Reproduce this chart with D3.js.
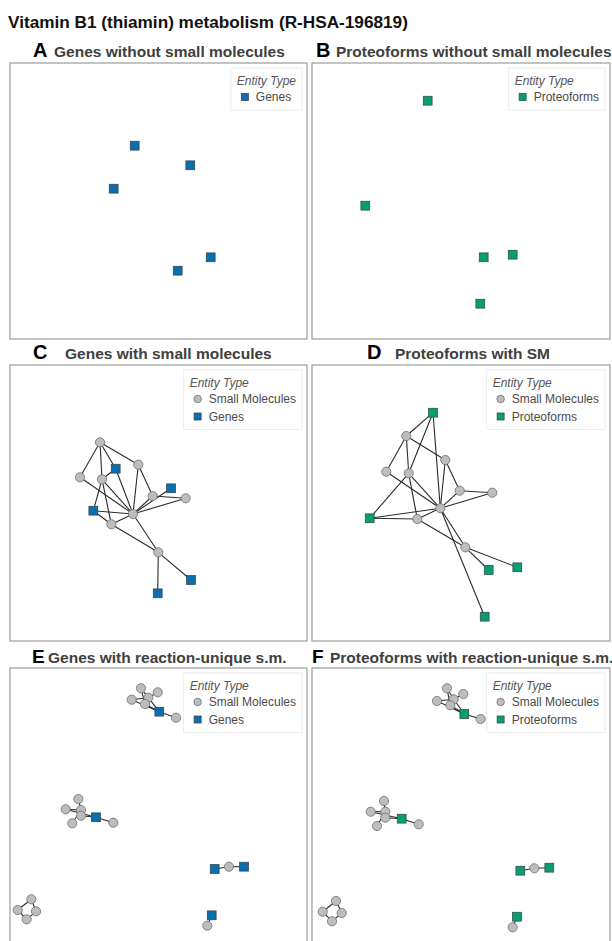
<!DOCTYPE html>
<html>
<head>
<meta charset="utf-8">
<script src="https://cdn.jsdelivr.net/npm/d3@7"></script>
<style>
  body { margin: 0; background: #fff; }
  svg { display: block; font-family: "Liberation Sans", Arial, Helvetica, sans-serif; }
</style>
</head>
<body>
<svg id="chart" width="612" height="941"></svg>
<script>
// ---- text ----
const chartTitle = "Vitamin B1 (thiamin) metabolism (R-HSA-196819)";
const panelLetters = ["A", "B", "C", "D", "E", "F"];
const panelTitles = [
  "Genes without small molecules",
  "Proteoforms without small molecules",
  "Genes with small molecules",
  "Proteoforms with SM",
  "Genes with reaction-unique s.m.",
  "Proteoforms with reaction-unique s.m."
];
const legendTitle = "Entity Type";
const entityLabels = { sm: "Small Molecules", gene: "Genes", prot: "Proteoforms" };
const legendEntries = [
  ["gene"], ["prot"], ["sm", "gene"], ["sm", "prot"], ["sm", "gene"], ["sm", "prot"]
];

// ---- network layouts: [id, entity type, layout x, layout y] ----
const nodesA = [
  ["g1", "gene", 124.7, 82.7], ["g2", "gene", 180.3, 102.3], ["g3", "gene", 103.7, 125.7],
  ["g4", "gene", 200.7, 194.3], ["g5", "gene", 167.7, 207.7]
];
const edgesA = [];

const nodesB = [
  ["p1", "prot", 115.7, 37.7], ["p2", "prot", 53.3, 142.7], ["p3", "prot", 171.7, 194.3],
  ["p4", "prot", 200.7, 191.7], ["p5", "prot", 168.3, 240.7]
];
const edgesB = [];

const nodesC = [
  ["n1", "sm", 90, 77.3], ["n2", "sm", 128.3, 99.7], ["n3", "sm", 70, 112.3],
  ["n4", "sm", 92, 114.3], ["n5", "sm", 142.7, 131], ["n6", "sm", 175.7, 133.3],
  ["hub", "sm", 123, 149], ["n8", "sm", 101.3, 159.3], ["n9", "sm", 148.3, 187.3],
  ["g1", "gene", 105.7, 103.7], ["g2", "gene", 161, 123.3], ["g3", "gene", 83.3, 145.7],
  ["g4", "gene", 181, 215], ["g5", "gene", 147.7, 228.3]
];
const edgesC = [
  ["n1", "n3"], ["n1", "n4"], ["n1", "n2"], ["n1", "g1"], ["g1", "n4"], ["g1", "hub"],
  ["n3", "hub"], ["n4", "hub"], ["n4", "g3"], ["n4", "n8"], ["n2", "hub"], ["n2", "n5"],
  ["n5", "hub"], ["g2", "hub"], ["n5", "n6"], ["n6", "hub"], ["g3", "hub"], ["g3", "n8"],
  ["n8", "hub"], ["n8", "n9"], ["hub", "n9"], ["n9", "g4"], ["n9", "g5"]
];

const nodesD = [
  ["n1", "sm", 94.3, 71], ["n2", "sm", 133.3, 95], ["n3", "sm", 74.3, 106.7],
  ["n4", "sm", 96.7, 108.3], ["n5", "sm", 147.7, 125.7], ["n6", "sm", 180.3, 127.7],
  ["hub", "sm", 128.3, 143.3], ["n8", "sm", 105.3, 154], ["n9", "sm", 153.3, 182.3],
  ["p1", "prot", 121, 47.7], ["pL", "prot", 57.7, 153.3], ["p3", "prot", 205.3, 202.3],
  ["p4", "prot", 176.7, 205], ["p5", "prot", 172.7, 251.7]
];
const edgesD = [
  ["p1", "n1"], ["p1", "n4"], ["p1", "hub"], ["n1", "n3"], ["n1", "n4"], ["n1", "n2"],
  ["n3", "hub"], ["n4", "hub"], ["n4", "pL"], ["n4", "n8"], ["n2", "hub"], ["n2", "n5"],
  ["n5", "hub"], ["n5", "n6"], ["n6", "hub"], ["pL", "hub"], ["pL", "n8"], ["n8", "hub"],
  ["n8", "n9"], ["hub", "n9"], ["hub", "p5"], ["n9", "p4"], ["n9", "p3"]
];

const nodesE = [
  ["a1", "sm", 131, 20.3], ["a2", "sm", 147.7, 24.3], ["a3", "sm", 138.3, 29.7],
  ["a4", "sm", 121.7, 31.7], ["a5", "sm", 135, 36], ["ga", "gene", 149.3, 43.7],
  ["a6", "sm", 166, 49.7],
  ["b1", "sm", 68.3, 131], ["b2", "sm", 55.7, 141.3], ["b3", "sm", 71, 142],
  ["b4", "sm", 71, 147.7], ["b5", "sm", 62.3, 155.3], ["gb", "gene", 86, 149.3],
  ["b6", "sm", 103.3, 154.7],
  ["c1", "sm", 21.3, 231.3], ["c2", "sm", 7.7, 242], ["c3", "sm", 26, 243.3],
  ["c4", "sm", 16.7, 251.3],
  ["gc1", "gene", 204.7, 201], ["d1", "sm", 219, 198.7], ["gc2", "gene", 234, 198.7],
  ["gd", "gene", 201.7, 247.3], ["d2", "sm", 197.3, 257.7]
];
const edgesE = [
  ["a1", "a5"], ["a1", "a3"], ["a2", "a3"], ["a4", "a3"], ["a4", "ga"], ["a5", "ga"],
  ["a3", "ga"], ["ga", "a6"],
  ["b1", "b3"], ["b2", "b3"], ["b2", "gb"], ["b3", "b4"], ["b4", "gb"], ["b5", "b3"],
  ["gb", "b6"],
  ["c1", "c2"], ["c1", "c3"], ["c2", "c4"], ["c3", "c4"],
  ["gc1", "d1"], ["d1", "gc2"], ["gd", "d2"]
];

const nodesF = [
  ["a1", "sm", 135, 20.3], ["a2", "sm", 151.3, 26], ["a3", "sm", 141.7, 31.3],
  ["a4", "sm", 125, 33], ["a5", "sm", 138.3, 37.3], ["pa", "prot", 152.3, 46],
  ["a6", "sm", 168.7, 51],
  ["b1", "sm", 72, 133], ["b2", "sm", 58.7, 143.7], ["b3", "sm", 73.3, 143.7],
  ["b4", "sm", 73.3, 149.7], ["b5", "sm", 65, 158], ["pb", "prot", 89.7, 150.7],
  ["b6", "sm", 106.7, 156.3],
  ["c1", "sm", 24, 233], ["c2", "sm", 10.7, 243.7], ["c3", "sm", 29.7, 245],
  ["c4", "sm", 20, 253.3],
  ["pc1", "prot", 208.3, 202.7], ["d1", "sm", 222.3, 200.3], ["pc2", "prot", 237.3, 199.7],
  ["pd", "prot", 205, 248.7], ["d2", "sm", 200.7, 259.3]
];
const edgesF = [
  ["a1", "a5"], ["a1", "a3"], ["a2", "a3"], ["a4", "a3"], ["a4", "pa"], ["a5", "pa"],
  ["a3", "pa"], ["pa", "a6"],
  ["b1", "b3"], ["b2", "b3"], ["b2", "pb"], ["b3", "b4"], ["b4", "pb"], ["b5", "b3"],
  ["pb", "b6"],
  ["c1", "c2"], ["c1", "c3"], ["c2", "c4"], ["c3", "c4"],
  ["pc1", "d1"], ["d1", "pc2"], ["pd", "d2"]
];

const panelNodes = [nodesA, nodesB, nodesC, nodesD, nodesE, nodesF];
const panelEdges = [edgesA, edgesB, edgesC, edgesD, edgesE, edgesF];

// ---- styling ----
const fillColor = { sm: "#bdbdbd", gene: "#0b6fae", prot: "#089d72" };
const strokeColor = { sm: "#6f6f6f", gene: "#33495a", prot: "#2f5548" };

// panel geometry
const colX = [10, 312];
const colW = [297, 298];
const rowY = [63, 365, 668];
const panelH = 276;
const layoutW = 297, layoutH = 276;

// title positions (letter x, letter size, title x, baseline)
const titlePos = [
  [33, 20, 54, 57], [316, 20, 336, 57],
  [33, 20, 65, 359], [367, 20, 395, 359],
  [32, 19, 48, 663], [312, 19, 330, 663]
];

const svg = d3.select("#chart");

svg.append("text")
  .attr("x", 8).attr("y", 28)
  .attr("font-size", 17.2).attr("font-weight", "bold").attr("fill", "#111")
  .text(chartTitle);

function drawNode(g, type, x, y, size) {
  if (type === "sm") {
    g.append("circle").attr("cx", x).attr("cy", y).attr("r", size / 2)
      .attr("fill", fillColor.sm).attr("stroke", strokeColor.sm).attr("stroke-width", 0.8);
  } else {
    g.append("rect").attr("x", x - size / 2).attr("y", y - size / 2)
      .attr("width", size).attr("height", size)
      .attr("fill", fillColor[type]).attr("stroke", strokeColor[type]).attr("stroke-width", 0.8);
  }
}

panelLetters.forEach((letter, i) => {
  const col = i % 2, row = Math.floor(i / 2);
  const x0 = colX[col], y0 = rowY[row], w = colW[col];

  const [lx, ls, tx, by] = titlePos[i];
  svg.append("text").attr("x", lx).attr("y", by)
    .attr("font-size", ls).attr("font-weight", "bold").attr("fill", "#000")
    .text(letter);
  svg.append("text").attr("x", tx).attr("y", by)
    .attr("font-size", 15.5).attr("font-weight", "bold").attr("fill", "#404040")
    .text(panelTitles[i]);

  const g = svg.append("g");
  g.append("rect").attr("x", x0).attr("y", y0).attr("width", w).attr("height", panelH)
    .attr("fill", "#fff").attr("stroke", "#a3a3a3").attr("stroke-width", 1.3);

  const xs = d3.scaleLinear().domain([0, layoutW]).range([x0, x0 + layoutW]);
  const ys = d3.scaleLinear().domain([0, layoutH]).range([y0, y0 + layoutH]);

  const nodes = panelNodes[i];
  const byId = new Map(nodes.map(d => [d[0], d]));

  g.selectAll("line.edge").data(panelEdges[i]).join("line")
    .attr("class", "edge")
    .attr("x1", d => xs(byId.get(d[0])[2])).attr("y1", d => ys(byId.get(d[0])[3]))
    .attr("x2", d => xs(byId.get(d[1])[2])).attr("y2", d => ys(byId.get(d[1])[3]))
    .attr("stroke", "#2b2b2b").attr("stroke-width", 1.1);

  nodes.forEach(d => drawNode(g, d[1], xs(d[2]), ys(d[3]), d[1] === "sm" ? 9.2 : 8.8));

  // legend
  const lg = g.append("g");
  const box = lg.append("rect").attr("fill", "#fff").attr("stroke", "#ececec").attr("stroke-width", 1);
  const tTitle = lg.append("text").attr("font-size", 12).attr("font-style", "italic")
    .attr("fill", "#555").text(legendTitle);
  const items = legendEntries[i];
  let maxW = tTitle.node().getComputedTextLength();
  const labelNodes = items.map(t => {
    const tt = lg.append("text").attr("font-size", 12).attr("fill", "#4a4a4a").text(entityLabels[t]);
    maxW = Math.max(maxW, 19 + tt.node().getComputedTextLength());
    return tt;
  });
  const bw = maxW + 12;
  const bh = 24.5 + items.length * 17.5;
  const bx = x0 + w - 5 - bw, byy = y0 + 5;
  box.attr("x", bx).attr("y", byy).attr("width", bw).attr("height", bh);
  tTitle.attr("x", bx + 6).attr("y", byy + 17);
  items.forEach((t, k) => {
    const cy = byy + 29 + k * 17.5;
    drawNode(lg, t, bx + 14, cy, t === "sm" ? 7.5 : 7);
    labelNodes[k].attr("x", bx + 25).attr("y", cy + 4.3);
  });
});
</script>
</body>
</html>
